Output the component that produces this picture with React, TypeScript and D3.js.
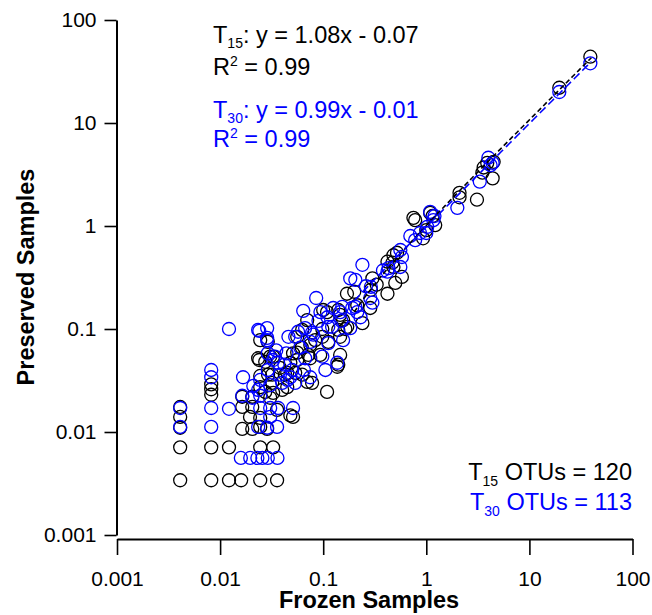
import React, { useEffect, useRef } from 'react';
import * as d3 from 'd3';

// [frozen, preserved] relative abundances
const t15Points: [number, number][] = [
  [39, 44], [19.5, 22], [3.6, 3.7], [3.9, 4.1], [4.5, 4.2], [4.4, 2.9], [3.5, 3.3],
  [2.1, 2.1], [2.1, 1.9], [3.1, 1.8], [0.78, 1.14], [1.09, 1.34], [1.22, 1.02],
  [0.93, 0.76], [1.0, 0.91], [0.75, 1.2], [1.15, 1.25], [0.47, 0.44], [0.52, 0.55],
  [0.58, 0.32], [0.5, 0.28], [0.48, 0.4], [0.42, 0.22], [0.3, 0.31], [0.29, 0.24],
  [0.48, 0.52], [0.42, 0.45], [0.2, 0.23], [0.17, 0.22], [0.214, 0.17], [0.156, 0.122],
  [0.1, 0.153], [0.109, 0.146], [0.14, 0.153], [0.146, 0.137], [0.164, 0.1], [0.24, 0.114],
  [0.07, 0.122], [0.0625, 0.098], [0.098, 0.1], [0.0836, 0.078], [0.112, 0.075],
  [0.029, 0.075], [0.056, 0.059], [0.0717, 0.056], [0.146, 0.056], [0.137, 0.043],
  [0.078, 0.03], [0.109, 0.0245], [0.0428, 0.036], [0.0535, 0.0375], [0.032, 0.03],
  [0.04, 0.0256], [0.0625, 0.036], [0.286, 0.16], [0.171, 0.105], [0.14, 0.098],
  [0.051, 0.058], [0.0748, 0.052], [0.0935, 0.056], [0.14, 0.045], [0.0245, 0.078],
  [0.0234, 0.052], [0.0327, 0.054], [0.0448, 0.0375], [0.07, 0.0306], [0.032, 0.036],
  [0.048, 0.047], [0.056, 0.05], [0.051, 0.014], [0.048, 0.0145], [0.056, 0.084],
  [0.098, 0.084], [0.146, 0.084], [0.075, 0.07], [0.024, 0.05], [0.0306, 0.054],
  [0.0274, 0.048], [0.0245, 0.035], [0.0292, 0.036], [0.0245, 0.0273], [0.0274, 0.0245],
  [0.0164, 0.022], [0.0205, 0.022], [0.0306, 0.0215], [0.0164, 0.0175], [0.0205, 0.0175],
  [0.0357, 0.0164], [0.0195, 0.014], [0.0245, 0.0137], [0.0164, 0.0107], [0.0205, 0.0107],
  [0.0245, 0.0112], [0.0286, 0.0107], [0.0245, 0.0071], [0.0327, 0.0071], [0.0327, 0.024],
  [0.0448, 0.0273], [0.0041, 0.0175], [0.0041, 0.014], [0.0041, 0.011], [0.0041, 0.0071],
  [0.0041, 0.0034], [0.0082, 0.029], [0.0082, 0.026], [0.0082, 0.023], [0.0082, 0.0071],
  [0.0082, 0.0034], [0.0122, 0.0071], [0.0122, 0.0034], [0.016, 0.0034], [0.0245, 0.0034],
  [0.0357, 0.0034], [0.038, 0.042], [0.062, 0.066], [0.33, 0.27],
];

const t30Points: [number, number][] = [
  [39, 38], [19.5, 20], [4.0, 4.6], [4.4, 4.1], [4.2, 3.9], [3.3, 2.7], [2.0, 1.5],
  [1.09, 1.37], [1.17, 1.14], [1.02, 0.98], [0.87, 0.855], [0.78, 0.73], [1.0, 0.855],
  [1.2, 1.25], [0.56, 0.585], [0.43, 0.39], [0.56, 0.4], [0.58, 0.5], [0.24, 0.42],
  [0.38, 0.37], [0.42, 0.36], [0.29, 0.256], [0.205, 0.3], [0.183, 0.31], [0.3, 0.18],
  [0.286, 0.2], [0.205, 0.164], [0.0855, 0.2], [0.094, 0.146], [0.064, 0.15],
  [0.153, 0.164], [0.191, 0.16], [0.125, 0.16], [0.214, 0.146], [0.23, 0.13],
  [0.183, 0.102], [0.122, 0.105], [0.112, 0.105], [0.0668, 0.102], [0.078, 0.092],
  [0.057, 0.094], [0.046, 0.084], [0.0535, 0.084], [0.075, 0.075], [0.112, 0.073],
  [0.146, 0.146], [0.156, 0.078], [0.08, 0.088], [0.0286, 0.102], [0.0234, 0.098],
  [0.0668, 0.052], [0.098, 0.054], [0.105, 0.04], [0.0748, 0.034], [0.048, 0.034],
  [0.034, 0.054], [0.029, 0.04], [0.0245, 0.032], [0.0535, 0.03], [0.0234, 0.0256],
  [0.137, 0.047], [0.0286, 0.078], [0.029, 0.058], [0.0366, 0.047], [0.0167, 0.034],
  [0.04, 0.03], [0.045, 0.032], [0.0122, 0.1], [0.024, 0.096], [0.0286, 0.082],
  [0.0327, 0.05], [0.021, 0.028], [0.0306, 0.0285], [0.0164, 0.0225], [0.0205, 0.0215],
  [0.0245, 0.0225], [0.0245, 0.0171], [0.0306, 0.0171], [0.0306, 0.014], [0.0234, 0.0112],
  [0.0286, 0.011], [0.0357, 0.0112], [0.0159, 0.0056], [0.0196, 0.0056], [0.023, 0.0056],
  [0.0257, 0.0056], [0.029, 0.0056], [0.036, 0.0056], [0.0041, 0.0171], [0.0041, 0.0112],
  [0.0082, 0.04], [0.0082, 0.034], [0.0082, 0.0171], [0.0082, 0.0112], [0.0122, 0.0168],
  [0.0366, 0.0171], [0.051, 0.0171], [0.035, 0.062], [0.042, 0.045], [0.06, 0.066],
  [0.09, 0.12], [0.05, 0.04], [0.065, 0.04], [0.11, 0.13], [0.26, 0.26], [0.7, 0.8],
  [0.15, 0.12], [0.044, 0.058], [0.038, 0.036],
];

// linear fits printed on the figure
const fitSlopes = [1.08, 0.99];
const fitIntercepts = [-0.07, -0.01];
const fitLabels = ['15', '30'];
const fitR2 = ['0.99', '0.99'];
const otuCounts = [120, 113];

const majorTicks = [0.001, 0.01, 0.1, 1, 10, 100];

const BLUE = '#0000ff';
const FONT = '"Liberation Sans", Arial, sans-serif';
const colors = ['#000', BLUE];

const Plot: React.FC = () => {
  const ref = useRef<SVGSVGElement>(null);

  useEffect(() => {
    if (!ref.current) return;
    const svg = d3.select(ref.current);
    svg.selectAll('*').remove();

    const x = d3.scaleLog().domain([0.001, 100]).range([117, 632.5]);
    const y = d3.scaleLog().domain([0.001, 100]).range([535, 20]);

    const minorTicks: number[] = [];
    majorTicks.slice(0, -1).forEach((m) => {
      for (let k = 2; k <= 9; k++) minorTicks.push(m * k);
    });

    // x axis
    const gx = svg.append('g').attr('transform', 'translate(0,539)');
    gx.call(
      d3.axisBottom(x).tickValues(minorTicks).tickSize(9).tickSizeOuter(0).tickFormat(() => '')
    );
    gx.call(
      d3.axisBottom(x).tickValues(majorTicks).tickSize(16).tickSizeOuter(0).tickPadding(16)
        .tickFormat((d) => String(d))
    );

    // y axis
    const gy = svg.append('g').attr('transform', 'translate(116.5,0)');
    gy.call(
      d3.axisLeft(y).tickValues(minorTicks).tickSize(8).tickSizeOuter(0).tickFormat(() => '')
    );
    gy.call(
      d3.axisLeft(y).tickValues(majorTicks).tickSize(12).tickSizeOuter(0).tickPadding(8)
        .tickFormat((d) => String(d))
    );

    svg.selectAll('.domain').attr('stroke', '#000').attr('stroke-width', 2);
    svg.selectAll('.tick line').attr('stroke', '#000').attr('stroke-width', 1.6);
    svg.selectAll('.tick text')
      .attr('font-family', FONT)
      .attr('font-size', 21)
      .attr('fill', '#000');

    // points
    const drawPoints = (pts: [number, number][], color: string) =>
      svg.append('g')
        .selectAll('circle')
        .data(pts)
        .join('circle')
        .attr('cx', (d) => x(d[0]))
        .attr('cy', (d) => y(d[1]))
        .attr('r', 6.5)
        .attr('fill', 'none')
        .attr('stroke', color)
        .attr('stroke-width', 1.3);
    drawPoints(t15Points, '#000');
    drawPoints(t30Points, BLUE);

    // fit lines
    const xs = d3.range(Math.log10(0.2), Math.log10(40) + 0.001, 0.02).map((v) => Math.pow(10, v));
    const line = d3.line<[number, number]>().x((d) => x(d[0])).y((d) => y(d[1]));
    const dashes = ['5,3', '8,4'];
    fitSlopes.forEach((a, i) => {
      const pts = xs
        .map((v) => [v, a * v + fitIntercepts[i]] as [number, number])
        .filter((d) => d[1] > 0);
      svg.append('path')
        .attr('d', line(pts))
        .attr('fill', 'none')
        .attr('stroke', colors[i])
        .attr('stroke-width', 1.6)
        .attr('stroke-dasharray', dashes[i]);
    });
  }, []);

  return (
    <svg
      ref={ref}
      width={652}
      height={615}
      style={{ position: 'absolute', left: 0, top: 0, background: '#fff' }}
    />
  );
};

const Labels: React.FC = () => {
  const fmt = (v: number) => (v < 0 ? `- ${Math.abs(v).toFixed(2)}` : `+ ${v.toFixed(2)}`);
  return (
    <svg
      width={652}
      height={615}
      style={{ position: 'absolute', left: 0, top: 0, pointerEvents: 'none' }}
      fontFamily={FONT}
    >
      {fitSlopes.map((a, i) => (
        <g key={i} fill={colors[i]} fontSize={23.5}>
          <text x={213} y={43 + i * 75}>
            T<tspan fontSize={14} dy={5}>{fitLabels[i]}</tspan>
            <tspan dy={-5}>: y = {a.toFixed(2)}x {fmt(fitIntercepts[i])}</tspan>
          </text>
          <text x={213} y={75 + i * 72}>
            R<tspan fontSize={14} dy={-9}>2</tspan>
            <tspan dy={9}> = {fitR2[i]}</tspan>
          </text>
        </g>
      ))}
      {otuCounts.map((n, i) => (
        <text key={i} x={632} y={480 + i * 30} textAnchor="end" fontSize={23.5} fill={colors[i]}>
          T<tspan fontSize={14} dy={6}>{fitLabels[i]}</tspan>
          <tspan dy={-6}> OTUs = {n}</tspan>
        </text>
      ))}
      <text x={369} y={608} textAnchor="middle" fontSize={23.5} fontWeight="bold">
        Frozen Samples
      </text>
      <text
        transform="translate(34,277) rotate(-90)"
        textAnchor="middle"
        fontSize={23.5}
        fontWeight="bold"
      >
        Preserved Samples
      </text>
    </svg>
  );
};

const App: React.FC = () => (
  <div style={{ position: 'absolute', left: 0, top: 0, width: 652, height: 615 }}>
    <Plot />
    <Labels />
  </div>
);

export default App;
